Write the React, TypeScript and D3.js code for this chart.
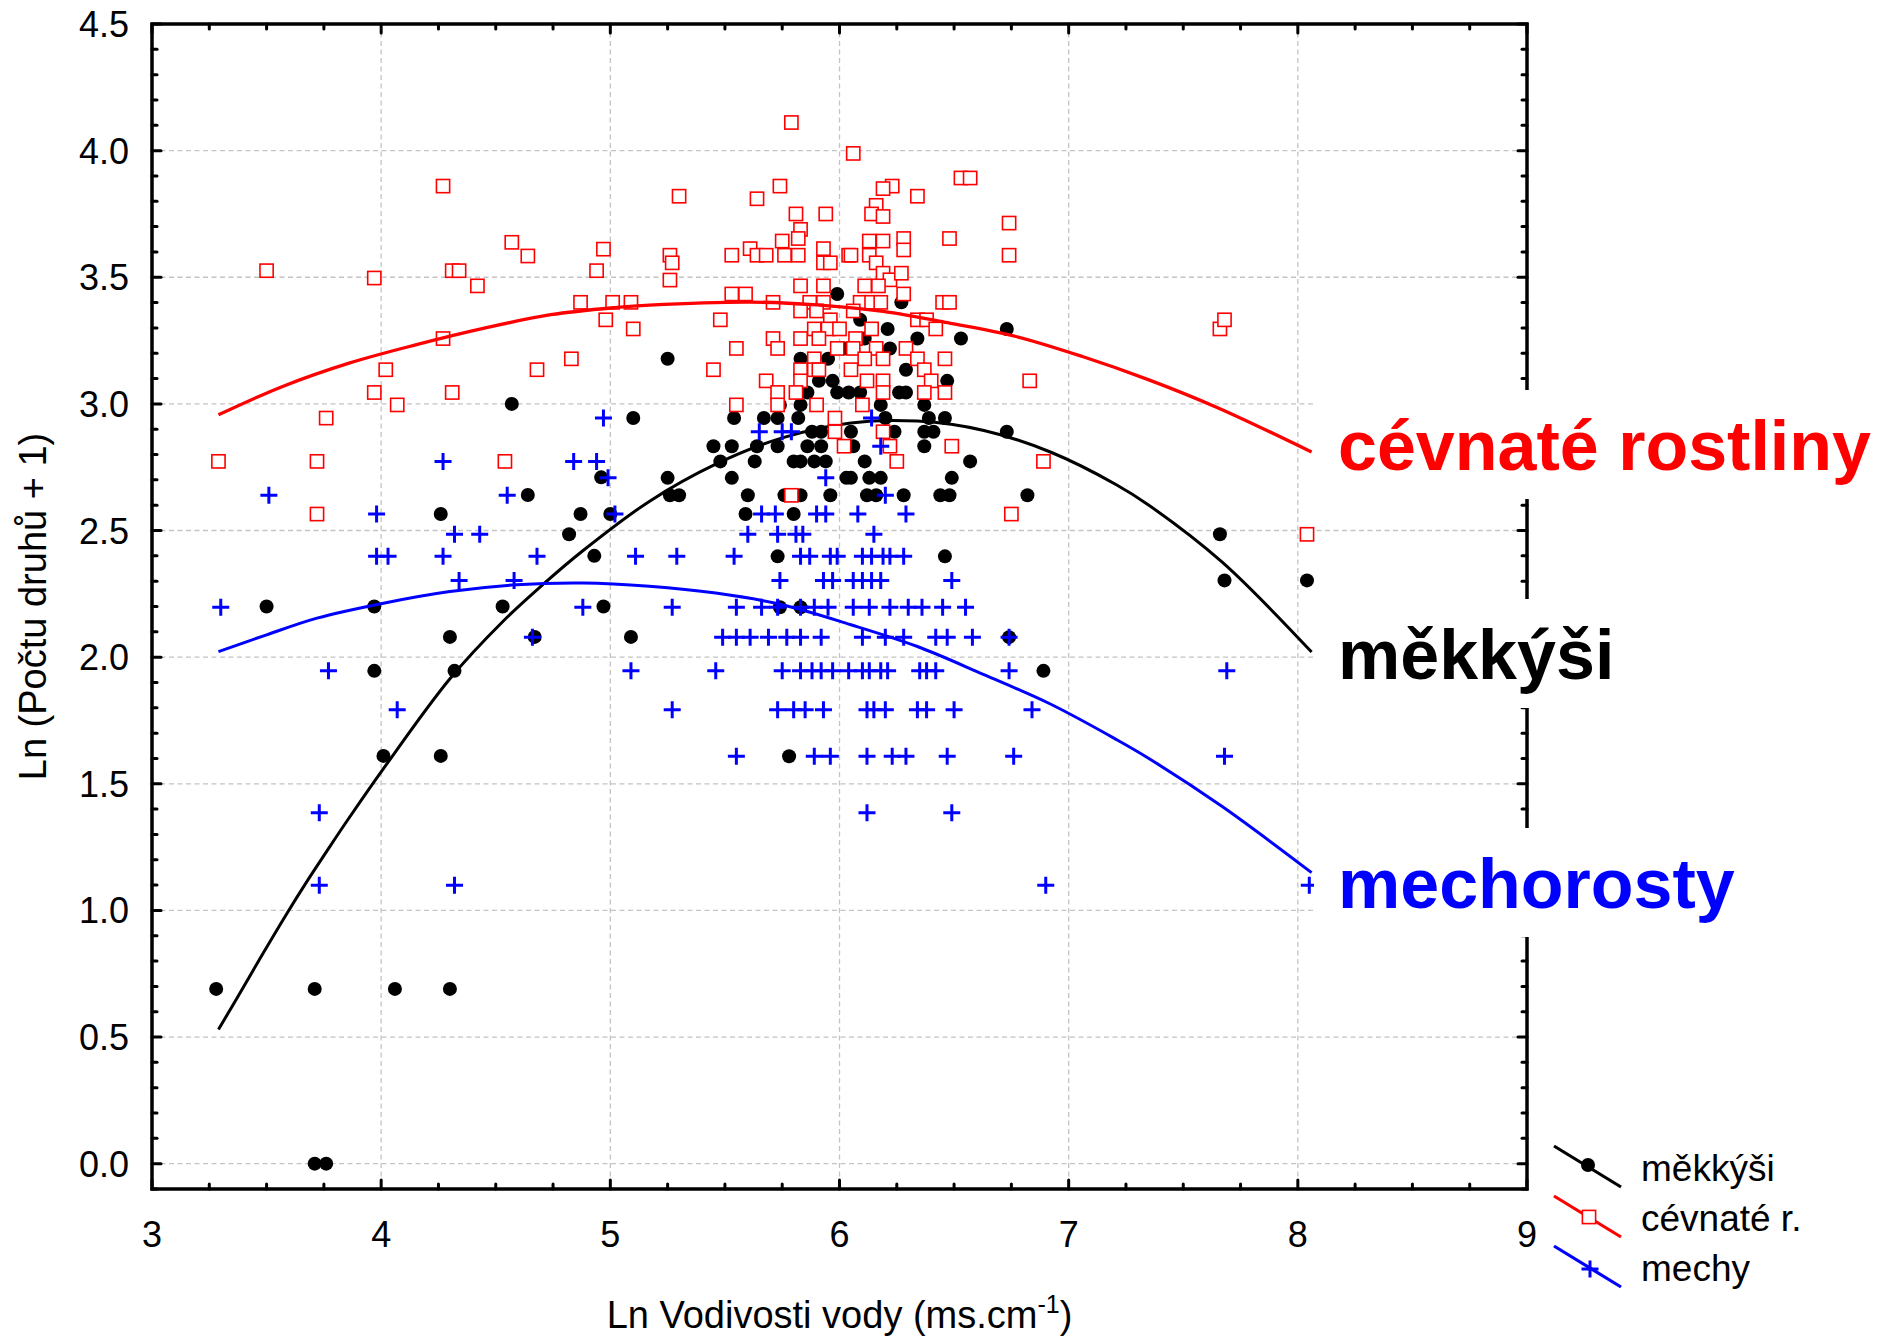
import React from 'react';
import * as d3 from 'd3';

// Canvas and plot frame (pixels)
const W = 1894;
const H = 1339;
const frame = { left: 152, right: 1527, top: 24, bottom: 1189 };

// Axis domains and tick values
const xDomain: [number, number] = [3, 9];
const yDomain: [number, number] = [-0.1, 4.5];
const xMajor = [3, 4, 5, 6, 7, 8, 9];
const yMajor = [0, 0.5, 1, 1.5, 2, 2.5, 3, 3.5, 4, 4.5];
const xGrid = [4, 5, 6, 7, 8];
const yGrid = [0, 0.5, 1, 1.5, 2, 2.5, 3, 3.5, 4];

// měkkýši (molluscs): [ln conductivity, ln(species + 1)]
const molluscs: [number, number][] = [
  [3.28, 0.69], [3.71, 0.69], [4.06, 0.69], [4.30, 0.69], [3.71, 0], [3.76, 0],
  [4.64, 2.64], [4.26, 2.565], [4.87, 2.565], [4.96, 2.71], [5.00, 2.565],
  [4.82, 2.485], [4.93, 2.40], [3.50, 2.20], [3.97, 2.20], [4.53, 2.20], [4.97, 2.20],
  [4.30, 2.08], [4.67, 2.08], [5.09, 2.08], [3.97, 1.946], [4.32, 1.946],
  [4.01, 1.61], [4.26, 1.61], [4.57, 3.0], [5.10, 2.944], [5.25, 3.178],
  [5.99, 3.434], [6.27, 3.401], [6.73, 3.296], [6.21, 3.296], [6.34, 3.258], [6.53, 3.258],
  [6.11, 3.258], [6.22, 3.219], [5.83, 3.178], [5.95, 3.178], [6.29, 3.135], [6.47, 3.091],
  [5.91, 3.091], [5.97, 3.091], [5.86, 3.045], [5.99, 3.045], [6.04, 3.045], [6.09, 3.045],
  [6.26, 3.045], [6.29, 3.045], [5.74, 2.996], [5.83, 2.996], [6.18, 2.996], [6.37, 2.996],
  [5.54, 2.944], [5.67, 2.944], [5.73, 2.944], [5.82, 2.944], [6.20, 2.944], [6.39, 2.944],
  [6.46, 2.944], [5.88, 2.89], [5.92, 2.89], [6.05, 2.89], [6.24, 2.89], [6.37, 2.89],
  [6.41, 2.89], [6.73, 2.89], [5.45, 2.833], [5.53, 2.833], [5.64, 2.833], [5.73, 2.833],
  [5.86, 2.833], [5.92, 2.833], [6.06, 2.833], [6.37, 2.833], [5.48, 2.773], [5.63, 2.773],
  [5.80, 2.773], [5.83, 2.773], [5.89, 2.773], [5.94, 2.773], [6.11, 2.773], [6.57, 2.773],
  [5.25, 2.708], [5.53, 2.708], [6.03, 2.708], [6.05, 2.708], [6.13, 2.708], [6.18, 2.708],
  [6.49, 2.708], [5.26, 2.639], [5.30, 2.639], [5.60, 2.639], [5.76, 2.639], [5.83, 2.639],
  [5.96, 2.639], [6.12, 2.639], [6.16, 2.639], [6.28, 2.639], [6.44, 2.639], [6.48, 2.639],
  [6.82, 2.639], [5.59, 2.565], [5.80, 2.565], [5.73, 2.398], [6.46, 2.398], [5.74, 2.197],
  [5.83, 2.197], [6.74, 2.079], [6.89, 1.946], [5.78, 1.609], [7.66, 2.485], [7.68, 2.303],
  [8.04, 2.303], [6.09, 3.332], [5.96, 3.332], [6.02, 3.219],
];

// cévnaté rostliny (vascular plants)
const vascular: [number, number][] = [
  [4.27, 3.86], [3.50, 3.526], [3.97, 3.497], [4.31, 3.526], [4.34, 3.526], [4.42, 3.466],
  [4.57, 3.638], [4.64, 3.584], [4.97, 3.611], [4.94, 3.526], [4.87, 3.401], [5.01, 3.401],
  [5.09, 3.401], [4.98, 3.332], [5.10, 3.296], [4.27, 3.258], [4.02, 3.135], [4.68, 3.135],
  [4.83, 3.178], [3.97, 3.045], [4.31, 3.045], [4.07, 2.996], [3.76, 2.944], [3.29, 2.773],
  [3.72, 2.773], [4.54, 2.773], [3.72, 2.565],
  [5.79, 4.111], [6.06, 3.989], [6.53, 3.892], [6.57, 3.892], [5.74, 3.86], [6.23, 3.86],
  [6.19, 3.85], [5.30, 3.82], [5.64, 3.81], [6.34, 3.82], [6.16, 3.784], [5.81, 3.75],
  [5.94, 3.75], [6.14, 3.75], [6.19, 3.74], [6.74, 3.714], [5.83, 3.689], [5.75, 3.643],
  [5.82, 3.653], [6.48, 3.653], [6.13, 3.643], [6.19, 3.643], [6.28, 3.653], [6.28, 3.608],
  [5.26, 3.587], [5.27, 3.557], [5.26, 3.489], [5.53, 3.587], [5.61, 3.613], [5.64, 3.587],
  [5.68, 3.587], [5.76, 3.587], [5.82, 3.587], [5.93, 3.613], [5.93, 3.557], [5.96, 3.557],
  [6.04, 3.587], [6.05, 3.587], [6.13, 3.587], [6.16, 3.557], [6.19, 3.516], [6.22, 3.49],
  [6.27, 3.516], [6.74, 3.587], [5.53, 3.434], [5.59, 3.434], [5.83, 3.466], [5.93, 3.466],
  [6.11, 3.466], [6.17, 3.466], [6.28, 3.434], [5.71, 3.401], [5.87, 3.401], [5.93, 3.401],
  [5.83, 3.367], [5.90, 3.367], [6.09, 3.401], [6.14, 3.401], [6.18, 3.401], [6.06, 3.367],
  [6.45, 3.401], [6.48, 3.401], [5.48, 3.332], [5.96, 3.332], [6.34, 3.332], [6.38, 3.332],
  [5.89, 3.296], [5.95, 3.296], [6.00, 3.296], [6.14, 3.296], [6.42, 3.296], [5.71, 3.258],
  [5.83, 3.258], [5.91, 3.258], [6.07, 3.258], [5.55, 3.219], [5.73, 3.219], [5.99, 3.219],
  [6.06, 3.219], [6.16, 3.219], [6.29, 3.219], [5.89, 3.178], [6.11, 3.178], [6.19, 3.178],
  [6.34, 3.178], [6.46, 3.178], [5.45, 3.135], [5.83, 3.135], [5.89, 3.135], [5.91, 3.135],
  [6.05, 3.135], [6.37, 3.135], [5.68, 3.091], [5.83, 3.091], [6.12, 3.091], [6.19, 3.091],
  [6.40, 3.091], [6.83, 3.091], [5.73, 3.045], [5.81, 3.045], [6.19, 3.045], [6.37, 3.045],
  [6.46, 3.045], [5.55, 2.996], [5.73, 2.996], [5.90, 2.996], [6.10, 2.996], [5.98, 2.944],
  [5.98, 2.89], [6.19, 2.89], [6.02, 2.833], [6.22, 2.833], [6.49, 2.833], [6.25, 2.773],
  [6.89, 2.773], [5.79, 2.639], [6.75, 2.565], [7.66, 3.296], [7.68, 3.332], [8.04, 2.485],
];

// mechorosty (bryophytes)
const bryophytes: [number, number][] = [
  [4.27, 2.773], [4.84, 2.773], [4.94, 2.773], [3.51, 2.639], [4.55, 2.639], [4.99, 2.708],
  [3.98, 2.565], [5.02, 2.565], [4.32, 2.485], [4.43, 2.485], [3.98, 2.398], [4.03, 2.398],
  [4.27, 2.398], [4.68, 2.398], [5.11, 2.398], [4.34, 2.303], [4.58, 2.303], [3.30, 2.197],
  [4.88, 2.197], [4.66, 2.079], [3.77, 1.946], [5.09, 1.946], [4.07, 1.792], [3.73, 1.386],
  [3.73, 1.099], [4.32, 1.099], [4.97, 2.944],
  [6.14, 2.944], [5.65, 2.89], [5.75, 2.89], [5.79, 2.89], [6.18, 2.833], [5.94, 2.708],
  [6.20, 2.639],
  [5.66, 2.565], [5.72, 2.565], [5.90, 2.565], [5.94, 2.565], [6.08, 2.565], [6.29, 2.565],
  [5.60, 2.485], [5.73, 2.485], [5.81, 2.485], [5.84, 2.485], [6.15, 2.485],
  [5.29, 2.398], [5.54, 2.398], [5.83, 2.398], [5.87, 2.398], [5.96, 2.398], [5.99, 2.398],
  [6.10, 2.398], [6.14, 2.398], [6.19, 2.398], [6.22, 2.398], [6.28, 2.398],
  [5.74, 2.303], [5.93, 2.303], [5.97, 2.303], [6.06, 2.303], [6.10, 2.303], [6.14, 2.303],
  [6.18, 2.303], [6.49, 2.303],
  [5.27, 2.197], [5.55, 2.197], [5.66, 2.197], [5.73, 2.197], [5.83, 2.197], [5.89, 2.197],
  [5.95, 2.197], [6.06, 2.197], [6.13, 2.197], [6.22, 2.197], [6.30, 2.197], [6.36, 2.197],
  [6.45, 2.197], [6.55, 2.197],
  [5.49, 2.079], [5.55, 2.079], [5.61, 2.079], [5.69, 2.079], [5.77, 2.079], [5.83, 2.079],
  [5.92, 2.079], [6.10, 2.079], [6.20, 2.079], [6.28, 2.079], [6.42, 2.079], [6.47, 2.079],
  [6.58, 2.079], [6.74, 2.079],
  [5.46, 1.946], [5.75, 1.946], [5.83, 1.946], [5.88, 1.946], [5.92, 1.946], [5.97, 1.946],
  [6.04, 1.946], [6.10, 1.946], [6.13, 1.946], [6.18, 1.946], [6.21, 1.946], [6.35, 1.946],
  [6.38, 1.946], [6.42, 1.946], [6.74, 1.946],
  [5.27, 1.792], [5.73, 1.792], [5.80, 1.792], [5.85, 1.792], [5.93, 1.792], [6.12, 1.792],
  [6.15, 1.792], [6.20, 1.792], [6.34, 1.792], [6.38, 1.792], [6.50, 1.792], [6.84, 1.792],
  [5.55, 1.609], [5.89, 1.609], [5.96, 1.609], [6.12, 1.609], [6.23, 1.609], [6.29, 1.609],
  [6.47, 1.609], [6.76, 1.609],
  [6.12, 1.386], [6.49, 1.386], [6.90, 1.099], [8.05, 1.099], [7.69, 1.946], [7.68, 1.609],
];

// Fitted trend curves
const molluscFit: [number, number][] = [
  [3.29, 0.53], [3.37, 0.652], [3.47, 0.808], [3.59, 0.99], [3.67, 1.106], [3.76, 1.23],
  [3.85, 1.352], [4.01, 1.56], [4.30, 1.915], [4.53, 2.14], [4.71, 2.29], [4.88, 2.42],
  [5.17, 2.615], [5.46, 2.762], [5.75, 2.866], [6.05, 2.925], [6.34, 2.932], [6.63, 2.895],
  [6.92, 2.81], [7.21, 2.68], [7.35, 2.6], [7.67, 2.375], [8.06, 2.02],
];
const vascularFit: [number, number][] = [
  [3.29, 2.957], [3.57, 3.069], [3.86, 3.161], [4.15, 3.233], [4.45, 3.299], [4.74, 3.352],
  [5.03, 3.381], [5.17, 3.39], [5.61, 3.402], [5.90, 3.391], [6.19, 3.365], [6.48, 3.319],
  [6.77, 3.266], [7.06, 3.187], [7.35, 3.095], [7.65, 2.985], [8.06, 2.81],
];
const bryoFit: [number, number][] = [
  [3.29, 2.022], [3.50, 2.088], [3.72, 2.154], [4.01, 2.213], [4.30, 2.259], [4.59, 2.286],
  [4.88, 2.293], [5.17, 2.28], [5.46, 2.253], [5.75, 2.207], [6.05, 2.128], [6.34, 2.042],
  [6.63, 1.931], [6.92, 1.815], [7.21, 1.674], [7.35, 1.60], [7.67, 1.41], [8.06, 1.149],
];

const legendNames = ['měkkýši', 'cévnaté r.', 'mechy'];
const curveLabels = ['cévnaté rostliny', 'měkkýši', 'mechorosty'];

const RED = '#ff0000';
const BLUE = '#0000ff';
const BLACK = '#000000';
const FONT = '"Liberation Sans", Arial, Helvetica, sans-serif';

const Dot = ({ cx, cy }: { cx: number; cy: number }) => <circle cx={cx} cy={cy} r={7} fill={BLACK} />;
const Square = ({ cx, cy }: { cx: number; cy: number }) => (
  <rect x={cx - 6.6} y={cy - 6.6} width={13.2} height={13.2} fill="#fff" stroke={RED} strokeWidth={1.6} />
);
const Cross = ({ cx, cy }: { cx: number; cy: number }) => (
  <path d={`M${cx - 8.5},${cy}H${cx + 8.5}M${cx},${cy - 8.5}V${cy + 8.5}`} stroke={BLUE} strokeWidth={3} fill="none" />
);

export default function App() {
  const x = d3.scaleLinear().domain(xDomain).range([frame.left, frame.right]);
  const y = d3.scaleLinear().domain(yDomain).range([frame.bottom, frame.top]);
  const line = d3
    .line<[number, number]>()
    .x((d) => x(d[0]))
    .y((d) => y(d[1]))
    .curve(d3.curveCatmullRom.alpha(0.5));

  const xMinor = d3.range(xDomain[0], xDomain[1] + 0.001, 0.25).filter((v) => Math.abs(v - Math.round(v)) > 0.01);
  const yMinor = d3.range(-0.1, 4.5001, 0.1).filter((v) => Math.abs(v * 2 - Math.round(v * 2)) > 0.01);

  const axisStroke = 3.5;
  const majorLen = 9;
  const minorLen = 5;

  const labelBaselines = [470, 679, 908];
  const labelColors = [RED, BLACK, BLUE];

  const legendRows = [1166, 1216, 1266];

  return (
    <svg
      width={W}
      height={H}
      viewBox={`0 0 ${W} ${H}`}
      style={{ position: 'absolute', left: 0, top: 0, background: '#fff' }}
      fontFamily={FONT}
    >
      <rect x={0} y={0} width={W} height={H} fill="#fff" />

      {/* grid */}
      <g stroke="#c4c4c4" strokeWidth={1.3} strokeDasharray="5,3.5">
        {xGrid.map((v) => (
          <line key={`gx${v}`} x1={x(v)} x2={x(v)} y1={frame.top} y2={frame.bottom} />
        ))}
        {yGrid.map((v) => (
          <line key={`gy${v}`} x1={frame.left} x2={frame.right} y1={y(v)} y2={y(v)} />
        ))}
      </g>

      {/* molluscs */}
      <g>
        {molluscs.map((d, i) => (
          <Dot key={`m${i}`} cx={x(d[0])} cy={y(d[1])} />
        ))}
      </g>
      <path d={line(molluscFit) || ''} fill="none" stroke={BLACK} strokeWidth={3} />

      {/* vascular plants */}
      <g>
        {vascular.map((d, i) => (
          <Square key={`v${i}`} cx={x(d[0])} cy={y(d[1])} />
        ))}
      </g>
      <path d={line(vascularFit) || ''} fill="none" stroke={RED} strokeWidth={3.3} />

      {/* bryophytes */}
      <g>
        {bryophytes.map((d, i) => (
          <Cross key={`b${i}`} cx={x(d[0])} cy={y(d[1])} />
        ))}
      </g>
      <path d={line(bryoFit) || ''} fill="none" stroke={BLUE} strokeWidth={3} />

      {/* frame and inward ticks */}
      <rect
        x={frame.left}
        y={frame.top}
        width={frame.right - frame.left}
        height={frame.bottom - frame.top}
        fill="none"
        stroke={BLACK}
        strokeWidth={axisStroke}
      />
      <g stroke={BLACK} strokeWidth={3} strokeLinecap="round">
        {xMajor.map((v) => (
          <g key={`tx${v}`}>
            <line x1={x(v)} x2={x(v)} y1={frame.bottom} y2={frame.bottom - majorLen} />
            <line x1={x(v)} x2={x(v)} y1={frame.top} y2={frame.top + majorLen} />
          </g>
        ))}
        {xMinor.map((v) => (
          <g key={`txm${v}`}>
            <line x1={x(v)} x2={x(v)} y1={frame.bottom} y2={frame.bottom - minorLen} />
            <line x1={x(v)} x2={x(v)} y1={frame.top} y2={frame.top + minorLen} />
          </g>
        ))}
        {yMajor.map((v) => (
          <g key={`ty${v}`}>
            <line x1={frame.left} x2={frame.left + majorLen} y1={y(v)} y2={y(v)} />
            <line x1={frame.right} x2={frame.right - majorLen} y1={y(v)} y2={y(v)} />
          </g>
        ))}
        {yMinor.map((v) => (
          <g key={`tym${v.toFixed(2)}`}>
            <line x1={frame.left} x2={frame.left + minorLen} y1={y(v)} y2={y(v)} />
            <line x1={frame.right} x2={frame.right - minorLen} y1={y(v)} y2={y(v)} />
          </g>
        ))}
      </g>

      {/* tick labels */}
      <g fontSize={36} fill={BLACK}>
        {xMajor.map((v) => (
          <text key={`lx${v}`} x={x(v)} y={1247} textAnchor="middle">
            {v}
          </text>
        ))}
        {yMajor.map((v) => (
          <text key={`ly${v}`} x={129} y={y(v) + 13} textAnchor="end">
            {d3.format('.1f')(v)}
          </text>
        ))}
      </g>

      {/* axis titles */}
      <text x={(frame.left + frame.right) / 2} y={1328} textAnchor="middle" fontSize={38} fill={BLACK}>
        Ln Vodivosti vody (ms.cm
        <tspan dy={-15} fontSize={25}>-1</tspan>
        <tspan dy={15}>)</tspan>
      </text>
      <text
        transform={`translate(46,${(frame.top + frame.bottom) / 2}) rotate(-90)`}
        textAnchor="middle"
        fontSize={38}
        fill={BLACK}
      >
        Ln (Počtu druhů + 1)
      </text>

      {/* curve labels on white boxes */}
      {curveLabels.map((t, i) => (
        <g key={`cl${i}`}>
          <rect x={1314} y={labelBaselines[i] - 80} width={580} height={109} fill="#fff" />
          <text x={1338} y={labelBaselines[i]} fontSize={70} fontWeight="bold" fill={labelColors[i]}>
            {t}
          </text>
        </g>
      ))}

      {/* legend */}
      {legendNames.map((t, i) => {
        const cy = legendRows[i];
        const col = [BLACK, RED, BLUE][i];
        return (
          <g key={`lg${i}`}>
            <line x1={1554} y1={cy - 20} x2={1621} y2={cy + 21} stroke={col} strokeWidth={3.2} />
            {i === 0 && <Dot cx={1588} cy={cy - 1} />}
            {i === 1 && <Square cx={1589} cy={cy + 1} />}
            {i === 2 && <Cross cx={1590} cy={cy + 3} />}
            <text x={1641} y={cy + 15} fontSize={37} fill={BLACK}>
              {t}
            </text>
          </g>
        );
      })}
    </svg>
  );
}
